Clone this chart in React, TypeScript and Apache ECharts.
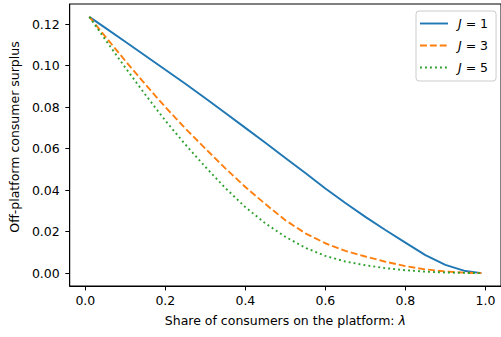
import React, { useEffect, useRef } from "react";
import * as echarts from "echarts";

const xs = [0.01, 0.05, 0.1, 0.15, 0.2, 0.25, 0.3, 0.35, 0.4, 0.45, 0.5, 0.55, 0.6, 0.65, 0.7, 0.75, 0.8, 0.85, 0.9, 0.95, 0.99];
const j1 = [0.1235, 0.1182, 0.1115, 0.1048, 0.098, 0.0913, 0.0843, 0.0772, 0.07, 0.0628, 0.0555, 0.0482, 0.0408, 0.0338, 0.0271, 0.0208, 0.0147, 0.0087, 0.004, 0.001, 0.0];
const j3 = [0.1235, 0.114, 0.1023, 0.091, 0.08, 0.0697, 0.06, 0.0505, 0.0415, 0.0333, 0.0255, 0.0192, 0.0144, 0.0107, 0.008, 0.0055, 0.0034, 0.0018, 0.0008, 0.0002, 0.0];
const j5 = [0.1235, 0.1125, 0.099, 0.086, 0.0735, 0.062, 0.0512, 0.041, 0.0318, 0.024, 0.0175, 0.0122, 0.0083, 0.0056, 0.0038, 0.0024, 0.0014, 0.0007, 0.0003, 0.0001, 0.0];
const seriesNames = ["J = 1", "J = 3", "J = 5"];
const xTicks = [0, 0.2, 0.4, 0.6, 0.8, 1.0];
const yTicks = [0, 0.02, 0.04, 0.06, 0.08, 0.1, 0.12];

const FONT = "DejaVu Sans";

const legendIcons = [
  "path://M0,0h28v1.9h-28z",
  "path://M0,0h6.9v1.9h-6.9z M9.9,0h6.9v1.9h-6.9z M19.8,0h6.9v1.9h-6.9z M28,0h0v1.9h0z",
  "path://M0,0h1.9v1.9h-1.9z M5,0h1.9v1.9h-1.9z M10,0h1.9v1.9h-1.9z M15,0h1.9v1.9h-1.9z M20,0h1.9v1.9h-1.9z M25,0h1.9v1.9h-1.9z M28,0h0v1.9h0z",
];

export default function App() {
  const ref = useRef<HTMLDivElement>(null);
  useEffect(() => {
    if (!ref.current) return;
    const chart = echarts.init(ref.current, null, { renderer: "svg" });
    const mk = (arr: number[]) => xs.map((x, i) => [x, arr[i]]);
    const colors = ["#1f77b4", "#ff7f0e", "#2ca02c"];
    const dashes: any[] = ["solid", [6.9, 3.0], [1.9, 3.1]];
    const datas = [j1, j3, j5];
    chart.setOption({
      animation: false,
      backgroundColor: "#fff",
      textStyle: { fontFamily: FONT },
      grid: {
        left: 67,
        top: 4,
        width: 436.5,
        height: 282,
        show: true,
        borderColor: "#000",
        borderWidth: 1,
        backgroundColor: "transparent",
      },
      legend: {
        left: 416,
        top: 11,
        orient: "vertical",
        itemWidth: 28,
        itemHeight: 2,
        itemGap: 9,
        padding: [6, 8, 7, 4],
        borderColor: "#cccccc",
        borderWidth: 1,
        borderRadius: 3,
        backgroundColor: "rgba(255,255,255,0.8)",
        data: seriesNames.map((n, i) => ({ name: n, icon: legendIcons[i], itemStyle: { color: colors[i] } })),
        formatter: (n: string) => "{i|J}" + n.slice(1),
        textStyle: {
          fontFamily: FONT,
          fontSize: 12.5,
          color: "#000",
          padding: [0, 0, 0, 5],
          rich: {
            i: { fontFamily: FONT, fontStyle: "italic", fontSize: 12.5, color: "#000" },
          },
        },
      },
      xAxis: {
        type: "value",
        min: -0.039,
        max: 1.039,
        name: "Share of consumers on the platform: {i|λ}",
        nameLocation: "middle",
        nameGap: 28,
        nameTextStyle: {
          fontFamily: FONT,
          fontSize: 12.5,
          color: "#000",
          rich: { i: { fontFamily: FONT, fontStyle: "italic", fontSize: 12.5, color: "#000" } },
        },
        axisLine: { show: true, onZero: false, lineStyle: { color: "#000", width: 1 } },
        axisTick: { show: true, length: 4.4, lineStyle: { color: "#000", width: 1 }, customValues: xTicks },
        axisLabel: {
          fontFamily: FONT,
          fontSize: 12.5,
          color: "#000",
          margin: 8,
          customValues: xTicks,
          formatter: (v: number) => v.toFixed(1),
        },
        splitLine: { show: false },
      },
      yAxis: {
        type: "value",
        min: -0.0062,
        max: 0.1297,
        name: "Off-platform consumer surplus",
        nameLocation: "middle",
        nameGap: 46,
        nameTextStyle: { fontFamily: FONT, fontSize: 12.5, color: "#000", padding: [0, 0, 0, 16] },
        axisLine: { show: true, onZero: false, lineStyle: { color: "#000", width: 1 } },
        axisTick: { show: true, length: 4.4, lineStyle: { color: "#000", width: 1 }, customValues: yTicks },
        axisLabel: {
          fontFamily: FONT,
          fontSize: 12.5,
          color: "#000",
          margin: 10,
          customValues: yTicks,
          formatter: (v: number) => v.toFixed(2),
        },
        splitLine: { show: false },
      },
      series: datas.map((d, i) => ({
        name: seriesNames[i],
        type: "line",
        data: mk(d),
        showSymbol: false,
        symbol: "none",
        smooth: false,
        lineStyle: { color: colors[i], width: 1.9, type: dashes[i] },
        itemStyle: { color: colors[i] },
      })),
    });
    return () => chart.dispose();
  }, []);
  return <div ref={ref} style={{ position: "fixed", left: 0, top: 0, width: 501, height: 337 }} />;
}
